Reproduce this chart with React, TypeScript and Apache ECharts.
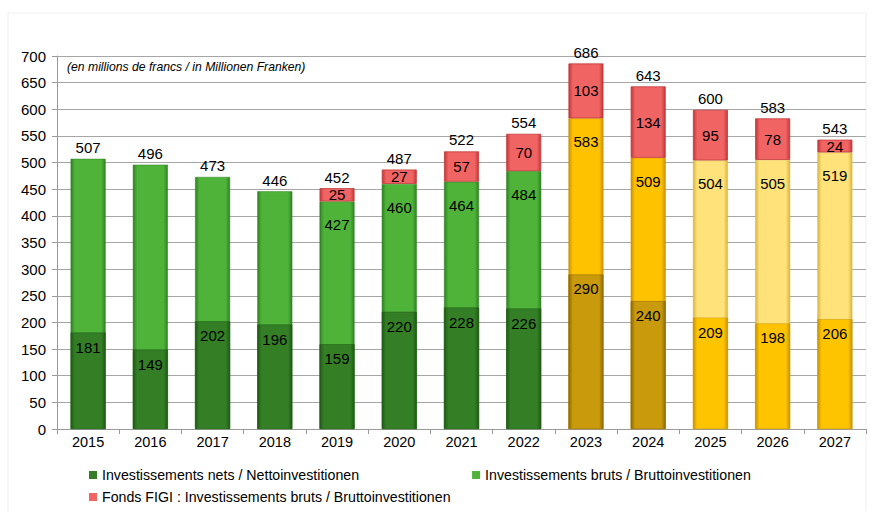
import React, { useEffect, useRef } from "react";
import * as echarts from "echarts";

const years = ["2015","2016","2017","2018","2019","2020","2021","2022","2023","2024","2025","2026","2027"];
const netValues = [181, 149, 202, 196, 159, 220, 228, 226, 290, 240, 209, 198, 206];
const grossValues = [507, 496, 473, 446, 427, 460, 464, 484, 583, 509, 504, 505, 519];
const figiValues = [null, null, null, null, 25, 27, 57, 70, 103, 134, 95, 78, 24];
const totalValues = [507, 496, 473, 446, 452, 487, 522, 554, 686, 643, 600, 583, 543];
// phase of each year: 0 = comptes, 1 = budget, 2 = plan financier
const phases = [0, 0, 0, 0, 0, 0, 0, 0, 1, 1, 2, 2, 2];
const yTicks = { min: 0, max: 700, interval: 50 };

const NAME_NET = "Investissements nets / Nettoinvestitionen";
const NAME_GROSS = "Investissements bruts / Bruttoinvestitionen";
const NAME_FIGI = "Fonds FIGI : Investissements bruts / Bruttoinvestitionen";

const netPalette = [
  { base: "#347f26", edge: "#1f5a15" },
  { base: "#c89a0c", edge: "#8f6a00" },
  { base: "#ffc400", edge: "#c79400" },
];
const grossPalette = [
  { base: "#4fb33a", edge: "#2f8221" },
  { base: "#ffc200", edge: "#c99200" },
  { base: "#ffe27a", edge: "#d9b640" },
];
const figiPalette = { base: "#f06464", edge: "#c23838" };

function grad(p: { base: string; edge: string }) {
  return new echarts.graphic.LinearGradient(0, 0, 1, 0, [
    { offset: 0, color: p.edge },
    { offset: 0.12, color: p.base },
    { offset: 0.88, color: p.base },
    { offset: 1, color: p.edge },
  ]);
}

export default function App() {
  const ref = useRef<HTMLDivElement>(null);
  useEffect(() => {
    if (!ref.current) return;
    const chart = echarts.init(ref.current, null, { renderer: "svg" });
    const font = "Liberation Sans, Arial, sans-serif";
    const labelBase = { color: "#000", fontSize: 15, fontFamily: font };
    chart.setOption({
      animation: false,
      backgroundColor: "#fff",
      textStyle: { fontFamily: font },
      grid: { left: 57, right: 5, top: 56, bottom: 82, containLabel: false },
      graphic: [
        {
          type: "rect",
          shape: { x: 8, y: 13, width: 858, height: 500 },
          style: { fill: "none", stroke: "#efefef", lineWidth: 1 },
          silent: true,
        },
        {
          type: "text",
          left: 67,
          top: 61,
          style: {
            text: "(en millions de francs / in Millionen Franken)",
            font: "italic 12.2px Liberation Sans, Arial, sans-serif",
            fill: "#000",
          },
        },
      ],
      legend: [
        {
          data: [NAME_NET, NAME_GROSS],
          left: 84,
          top: 463,
          icon: "rect",
          itemWidth: 8,
          itemHeight: 8,
          itemGap: 113,
          textStyle: { fontSize: 14.2, color: "#000", fontFamily: font },
        },
        {
          data: [NAME_FIGI],
          left: 84,
          top: 485,
          icon: "rect",
          itemWidth: 8,
          itemHeight: 8,
          textStyle: { fontSize: 14.2, color: "#000", fontFamily: font },
        },
      ],
      xAxis: {
        type: "category",
        data: years,
        boundaryGap: true,
        axisLine: { lineStyle: { color: "#9a9a9a" } },
        axisTick: { show: true, alignWithLabel: false, length: 5, lineStyle: { color: "#9a9a9a" } },
        axisLabel: { color: "#000", fontSize: 14.5, margin: 5, fontFamily: font },
      },
      yAxis: {
        type: "value",
        min: yTicks.min,
        max: yTicks.max,
        interval: yTicks.interval,
        axisLine: { show: true, lineStyle: { color: "#9a9a9a" } },
        axisTick: { show: true, length: 5, lineStyle: { color: "#9a9a9a" } },
        axisLabel: { color: "#000", fontSize: 15, margin: 11, fontFamily: font },
        splitLine: { lineStyle: { color: "#a6a6a6", width: 1 } },
      },
      series: [
        {
          name: NAME_GROSS,
          type: "bar",
          stack: "gross",
          barWidth: 35,
          barGap: "-100%",
          itemStyle: { color: grossPalette[0].base },
          data: grossValues.map((v, i) => ({
            value: v,
            itemStyle: { color: grad(grossPalette[phases[i]]), borderColor: grossPalette[phases[i]].edge, borderWidth: 0.5 },
            label: { show: figiValues[i] != null, position: "insideTop", distance: 16, ...labelBase },
          })),
        },
        {
          name: NAME_FIGI,
          type: "bar",
          stack: "gross",
          barWidth: 35,
          barGap: "-100%",
          itemStyle: { color: figiPalette.base },
          data: figiValues.map((v) => ({
            value: v,
            itemStyle: { color: grad(figiPalette), borderColor: figiPalette.edge, borderWidth: 0.8 },
          })),
          label: { show: true, position: "inside", ...labelBase },
        },
        {
          name: NAME_NET,
          type: "bar",
          barWidth: 35,
          barGap: "-100%",
          z: 3,
          itemStyle: { color: netPalette[0].base },
          data: netValues.map((v, i) => ({
            value: v,
            itemStyle: { color: grad(netPalette[phases[i]]), borderColor: netPalette[phases[i]].edge, borderWidth: 0.5 },
          })),
          label: { show: true, position: "insideTop", distance: 7, ...labelBase },
        },
        {
          name: "total",
          type: "line",
          data: totalValues,
          symbol: "circle",
          symbolSize: 1,
          itemStyle: { color: "rgba(0,0,0,0)" },
          lineStyle: { opacity: 0 },
          silent: true,
          z: 5,
          label: { show: true, position: "top", distance: 3, ...labelBase },
        },
      ],
    });
    return () => chart.dispose();
  }, []);
  return <div ref={ref} style={{ width: 871, height: 511, position: "fixed", left: 0, top: 0 }} />;
}
